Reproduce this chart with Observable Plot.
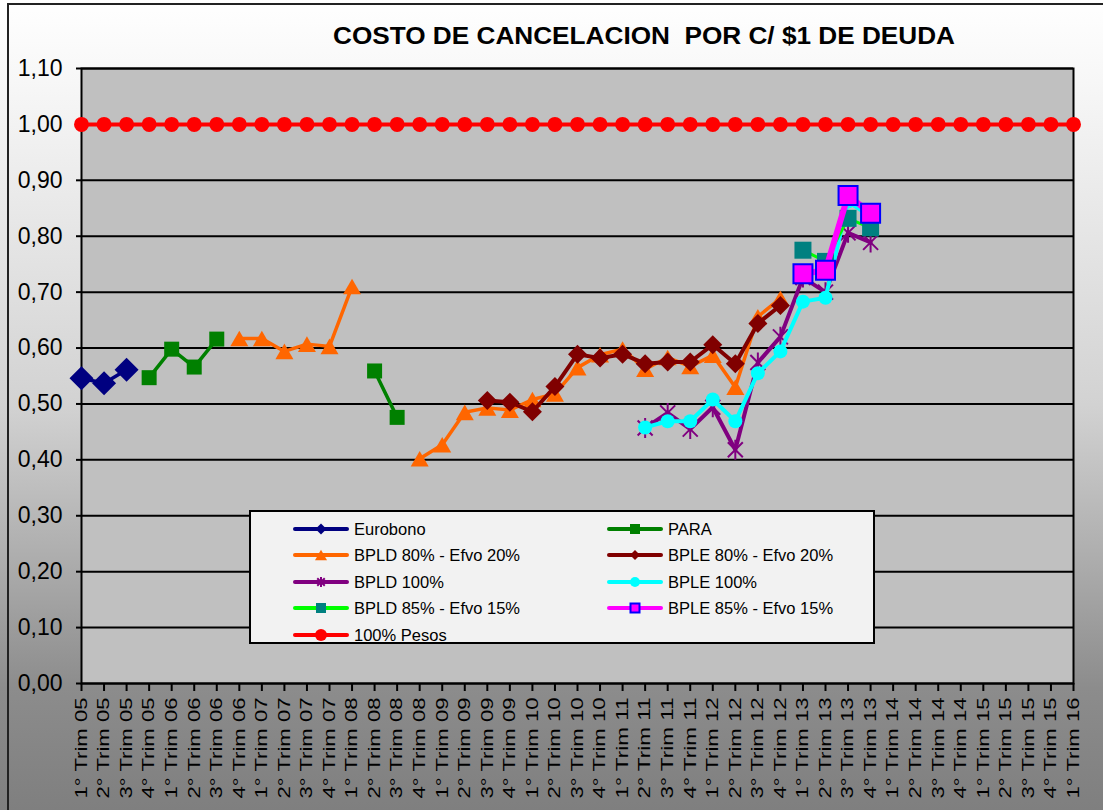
<!DOCTYPE html>
<html><head><meta charset="utf-8">
<script src="https://cdn.jsdelivr.net/npm/d3@7"></script>
<script src="https://cdn.jsdelivr.net/npm/@observablehq/plot@0.6"></script>
<style>
body{margin:0;background:#fff;}
#wrap{position:relative;width:1103px;height:810px;overflow:hidden;
 background:linear-gradient(to bottom,#ffffff 0%,#f7f7f7 10%,#d2d2d2 50%,#ababab 70%,#8c8c8c 85%,#7f7f7f 100%);
 font-family:Arial,"Liberation Sans",sans-serif;}
#border{position:absolute;left:7px;top:3px;width:1110px;height:830px;border:2px solid #222;box-sizing:border-box;pointer-events:none}
#title{position:absolute;left:0;top:0}
#chart{position:absolute;left:0;top:0}
#legend{position:absolute;left:249px;top:510px;width:626px;height:134px;background:#f2f2f2;border:2px solid #000;box-sizing:border-box}
.item{position:absolute;height:20px;display:flex;align-items:center;font-size:16.5px;color:#000;white-space:nowrap}
.item svg{margin-right:5px}
</style></head>
<body>
<div id="wrap">
  <div id="chart"></div>
  <svg id="title" width="1103" height="60"><text x="333" y="44" font-family="Arial, 'Liberation Sans', sans-serif" font-weight="bold" font-size="23" textLength="622" lengthAdjust="spacingAndGlyphs" xml:space="preserve">COSTO DE CANCELACION  POR C/ $1 DE DEUDA</text></svg>
  <div id="legend"></div>
  <div id="border"></div>
</div>
<script>
const N = null;
const categories = [
 "1° Trim 05","2° Trim 05","3° Trim 05","4° Trim 05",
 "1° Trim 06","2° Trim 06","3° Trim 06","4° Trim 06",
 "1° Trim 07","2° Trim 07","3° Trim 07","4° Trim 07",
 "1° Trim 08","2° Trim 08","3° Trim 08","4° Trim 08",
 "1° Trim 09","2° Trim 09","3° Trim 09","4° Trim 09",
 "1° Trim 10","2° Trim 10","3° Trim 10","4° Trim 10",
 "1° Trim 11","2° Trim 11","3° Trim 11","4° Trim 11",
 "1° Trim 12","2° Trim 12","3° Trim 12","4° Trim 12",
 "1° Trim 13","2° Trim 13","3° Trim 13","4° Trim 13",
 "1° Trim 14","2° Trim 14","3° Trim 14","4° Trim 14",
 "1° Trim 15","2° Trim 15","3° Trim 15","4° Trim 15",
 "1° Trim 16"];
const yTicks = [0,0.1,0.2,0.3,0.4,0.5,0.6,0.7,0.8,0.9,1.0,1.1];

const eurobono = [0.546,0.537,0.561,N, N,N,N,N, N,N,N,N, N,N,N,N, N,N,N,N, N,N,N,N, N,N,N,N, N,N,N,N, N,N,N,N, N,N,N,N, N,N,N,N, N];
const para     = [N,N,N,0.547, 0.598,0.566,0.616,N, N,N,N,N, N,0.559,0.476,N, N,N,N,N, N,N,N,N, N,N,N,N, N,N,N,N, N,N,N,N, N,N,N,N, N,N,N,N, N];
const bpld80   = [N,N,N,N, N,N,N,0.617, 0.617,0.594,0.607,0.603, 0.71,N,N,0.402, 0.427,0.485,0.493,0.489, 0.508,0.518,0.565,0.588, 0.598,0.562,0.583,0.567, 0.587,0.53,0.656,0.689, N,N,N,N, N,N,N,N, N,N,N,N, N];
const bple80   = [N,N,N,N, N,N,N,N, N,N,N,N, N,N,N,N, N,N,0.506,0.503, 0.486,0.531,0.589,0.582, 0.589,0.572,0.575,0.575, 0.606,0.572,0.644,0.676, N,N,N,N, N,N,N,N, N,N,N,N, N];
const bpld100  = [N,N,N,N, N,N,N,N, N,N,N,N, N,N,N,N, N,N,N,N, N,N,N,N, N,0.457,0.484,0.455, 0.494,0.418,0.574,0.62, 0.726,0.70,0.806,0.789, N,N,N,N, N,N,N,N, N];
const bple100  = [N,N,N,N, N,N,N,N, N,N,N,N, N,N,N,N, N,N,N,N, N,N,N,N, N,0.458,0.469,0.469, 0.508,0.469,0.555,0.594, 0.683,0.69,0.862,0.835, N,N,N,N, N,N,N,N, N];
const bpld85   = [N,N,N,N, N,N,N,N, N,N,N,N, N,N,N,N, N,N,N,N, N,N,N,N, N,N,N,N, N,N,N,N, 0.775,0.755,0.832,0.815, N,N,N,N, N,N,N,N, N];
const bple85   = [N,N,N,N, N,N,N,N, N,N,N,N, N,N,N,N, N,N,N,N, N,N,N,N, N,N,N,N, N,N,N,N, 0.733,0.739,0.873,0.841, N,N,N,N, N,N,N,N, N];
const pesos    = [1,1,1,1, 1,1,1,1, 1,1,1,1, 1,1,1,1, 1,1,1,1, 1,1,1,1, 1,1,1,1, 1,1,1,1, 1,1,1,1, 1,1,1,1, 1,1,1,1, 1];

// custom marker shapes (r = radius-like extent)
const rOf = s => Math.sqrt(s / Math.PI);
const symDiamond = {draw(c, s){const r=rOf(s); c.moveTo(0,-r); c.lineTo(r,0); c.lineTo(0,r); c.lineTo(-r,0); c.closePath();}};
const symSquare = {draw(c, s){const r=rOf(s); c.moveTo(-r,-r); c.lineTo(r,-r); c.lineTo(r,r); c.lineTo(-r,r); c.closePath();}};
const symTriangle = {draw(c, s){const r=rOf(s), h=r*0.866; c.moveTo(0,-h); c.lineTo(r,h); c.lineTo(-r,h); c.closePath();}};
const symCircle = {draw(c, s){const r=rOf(s); c.moveTo(r,0); c.arc(0,0,r,0,2*Math.PI);}};
const symStar = {draw(c, s){const r=rOf(s), d=r*0.75; c.moveTo(0,-r); c.lineTo(0,r); c.moveTo(-d,-d); c.lineTo(d,d); c.moveTo(-d,d); c.lineTo(d,-d);}};

const series = [
 {name:"Eurobono", values:eurobono, line:"#000080", lw:3.5, sym:symDiamond, r:12, fill:"#000080", stroke:"none", sw:0, lr:5.5},
 {name:"PARA", values:para, line:"#008000", lw:3.5, sym:symSquare, r:7.5, fill:"#008000", stroke:"none", sw:0, lr:5},
 {name:"BPLD 80% - Efvo 20%", values:bpld80, line:"#FF6600", lw:3.5, sym:symTriangle, r:9, fill:"#FF6600", stroke:"none", sw:0, lr:6},
 {name:"BPLE 80% - Efvo 20%", values:bple80, line:"#800000", lw:4, sym:symDiamond, r:9.5, fill:"#800000", stroke:"none", sw:0, lr:5},
 {name:"BPLD 100%", values:bpld100, line:"#800080", lw:4, sym:symStar, r:10, fill:"none", stroke:"#800080", sw:2, lr:5},
 {name:"BPLE 100%", values:bple100, line:"#00FFFF", lw:4, sym:symCircle, r:7, fill:"#00FFFF", stroke:"none", sw:0, lr:5},
 {name:"BPLD 85% - Efvo 15%", values:bpld85, line:"#00FF00", lw:3, sym:symSquare, r:8.5, fill:"#008080", stroke:"none", sw:0, lr:5},
 {name:"BPLE 85% - Efvo 15%", values:bple85, line:"#FF00FF", lw:6, sym:symSquare, r:9.5, fill:"#FF00FF", stroke:"#0000FF", sw:2, lr:4.5},
 {name:"100% Pesos", values:pesos, line:"#FF0000", lw:4, sym:symCircle, r:7.5, fill:"#FF0000", stroke:"none", sw:0, lr:6}
];

const catIndex = d3.range(categories.length);
const seriesMarks = series.flatMap(s => {
  const data = catIndex.map(i => ({i, cat: categories[i], v: s.values[i]}));
  return [
    Plot.line(data, {x: "i", y: "v", stroke: s.line, strokeWidth: s.lw, strokeLinejoin: "round", strokeLinecap: "round"}),
    Plot.dot(data.filter(d => d.v != null), {x: "i", y: "v", symbol: s.sym, r: s.r, fill: s.fill, stroke: s.stroke, strokeWidth: s.sw})
  ];
});

const chart = Plot.plot({
  width: 1103, height: 810,
  marginLeft: 81, marginRight: 30, marginTop: 68, marginBottom: 127,
  style: {background: "transparent", fontFamily: "Arial, 'Liberation Sans', sans-serif", overflow: "visible", color: "#000"},
  x: {type: "linear", domain: [0, categories.length - 1], label: null},
  y: {domain: [0, 1.1], label: null},
  marks: [
    Plot.frame({fill: "#c0c0c0"}),
    Plot.gridY(yTicks, {stroke: "#000", strokeOpacity: 1, strokeWidth: 2}),
    Plot.frame({stroke: "#000", strokeWidth: 2}),
    Plot.axisY(yTicks, {tickSize: 5, tickPadding: 14, strokeWidth: 2, fontSize: 23, tickFormat: d => d.toFixed(2).replace(".", ","), label: null}),
    Plot.axisX(catIndex, {tickSize: 8, tickPadding: 6, strokeWidth: 2, tickRotate: -90, fontSize: 16.5, tickFormat: i => categories[i], label: null}),
    ...seriesMarks
  ]
});
document.getElementById("chart").appendChild(chart);
d3.select(chart).selectAll('g[aria-label="x-axis tick label"] text')
  .attr("textLength", 101).attr("lengthAdjust", "spacingAndGlyphs");

// legend
const legend = d3.select("#legend");
const rowsY = [7, 33, 60, 86, 113];
series.forEach((s, k) => {
  const col = k % 2, row = Math.floor(k / 2);
  const item = legend.append("div").attr("class", "item")
    .style("left", (col ? 356 : 42) + "px").style("top", rowsY[row] + "px");
  const svg = item.append("svg").attr("width", 56).attr("height", 20);
  svg.append("line").attr("x1", 2).attr("x2", 54).attr("y1", 10).attr("y2", 10)
    .attr("stroke", s.line).attr("stroke-width", 4).attr("stroke-linecap", "round");
  svg.append("path").attr("transform", "translate(28,10)")
    .attr("d", d3.symbol(s.sym, Math.PI * s.lr * s.lr)())
    .attr("fill", s.fill).attr("stroke", s.stroke === "none" ? null : s.stroke)
    .attr("stroke-width", s.sw);
  item.append("span").text(s.name);
});
</script>
</body></html>
